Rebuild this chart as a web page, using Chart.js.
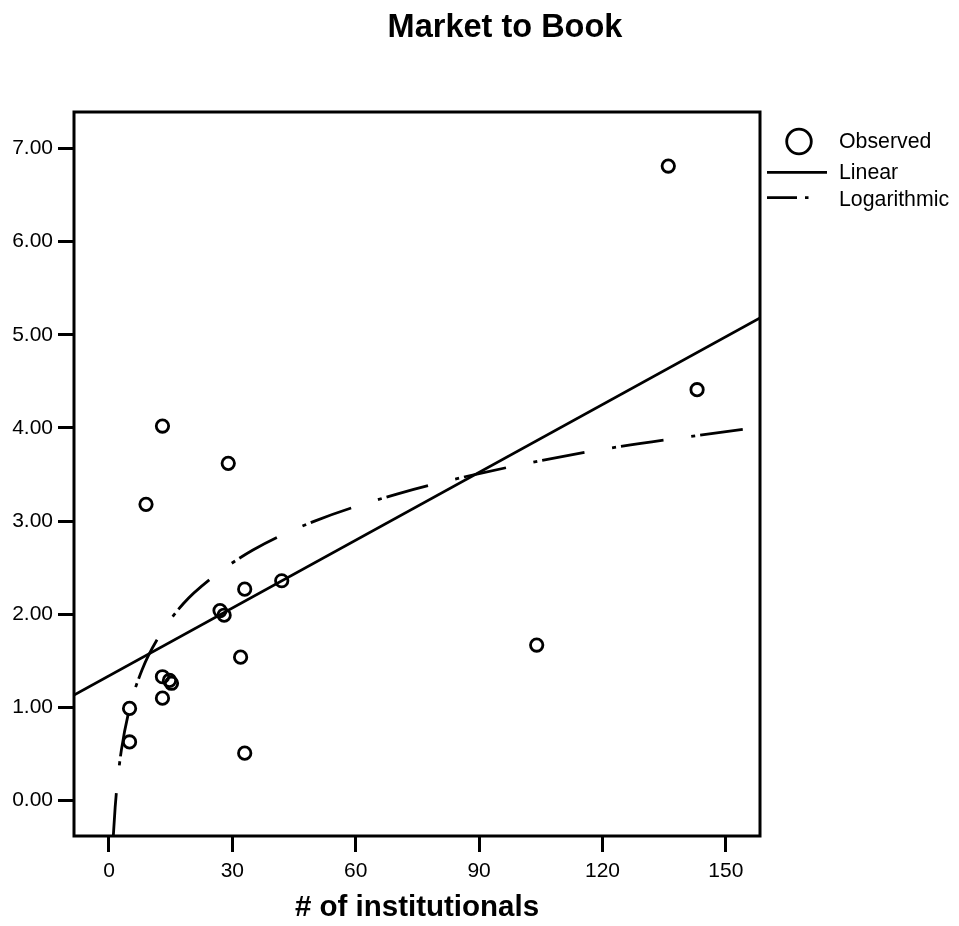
<!DOCTYPE html>
<html>
<head>
<meta charset="utf-8">
<script src="https://cdn.jsdelivr.net/npm/chart.js@4"></script>
<style>
  html, body { margin: 0; padding: 0; background: #fff; }
  #wrap { width: 959px; height: 926px; }
</style>
</head>
<body>
<div id="wrap"><canvas id="c" width="959" height="926"></canvas></div>
<script>
// ---- data ----
const chartTitle = "Market to Book";
const xAxisTitle = "# of institutionals";
const legendLabels = ["Observed", "Linear", "Logarithmic"];

const obsX = [136, 143, 13, 29, 9, 42, 33, 27, 28, 104, 32, 13, 14.7, 15.2, 13, 5, 5, 33];
const obsY = [6.81, 4.41, 4.02, 3.62, 3.18, 2.36, 2.27, 2.04, 1.99, 1.67, 1.54, 1.33, 1.29, 1.26, 1.10, 0.99, 0.63, 0.51];

const linX = [-8.51, 158.3];
const linY = [1.134, 5.18];

const logX = [1.05, 1.5, 2, 3, 5, 8, 12, 18, 25, 35, 50, 70, 90, 120, 155];
const logY = [-0.38, -0.07, 0.18, 0.54, 0.99, 1.40, 1.75, 2.11, 2.39, 2.69, 3.00, 3.29, 3.51, 3.77, 3.99];

const xTicks = [0, 30, 60, 90, 120, 150];
const yTicks = [0, 1, 2, 3, 4, 5, 6, 7];
const xMin = -8.51, xMax = 158.3;
const yMin = -0.379, yMax = 7.39;

// ---- build ----
const FONT = "'Liberation Sans', Arial, Helvetica, sans-serif";
const zip = (xs, ys) => xs.map((x, i) => ({ x: x, y: ys[i] }));
const LOG_DASH = [43, 28, 4, 5];

const framePlugin = {
  id: 'frameAndText',
  afterDraw(chart) {
    const ctx = chart.ctx;
    const a = chart.chartArea;
    ctx.save();
    // plot frame
    ctx.strokeStyle = '#000';
    ctx.lineWidth = 3;
    ctx.strokeRect(a.left, a.top, a.right - a.left, a.bottom - a.top);

    // title
    ctx.fillStyle = '#000';
    ctx.textAlign = 'center';
    ctx.textBaseline = 'alphabetic';
    ctx.font = "bold 32.5px " + FONT;
    ctx.fillText(chartTitle, 505, 37);

    // x axis title
    ctx.font = "bold 29.5px " + FONT;
    ctx.fillText(xAxisTitle, (a.left + a.right) / 2, 916);

    // legend
    ctx.textAlign = 'left';
    ctx.font = "21.3px " + FONT;
    ctx.lineWidth = 2.8;
    ctx.beginPath();
    ctx.arc(799, 141.5, 12.3, 0, Math.PI * 2);
    ctx.stroke();
    ctx.fillText(legendLabels[0], 839, 147.5);

    ctx.beginPath();
    ctx.moveTo(767, 172.3);
    ctx.lineTo(827, 172.3);
    ctx.stroke();
    ctx.fillText(legendLabels[1], 839, 178.5);

    ctx.beginPath();
    ctx.moveTo(767, 197.7);
    ctx.lineTo(797, 197.7);
    ctx.moveTo(805, 197.7);
    ctx.lineTo(808.5, 197.7);
    ctx.stroke();
    ctx.fillText(legendLabels[2], 839, 206);
    ctx.restore();
  }
};

new Chart(document.getElementById('c'), {
  type: 'scatter',
  data: {
    datasets: [
      {
        label: legendLabels[0],
        data: zip(obsX, obsY),
        pointStyle: 'circle',
        pointRadius: 6.2,
        pointHoverRadius: 6.2,
        borderWidth: 2.8,
        borderColor: '#000',
        backgroundColor: 'rgba(0,0,0,0)',
        order: 1
      },
      {
        label: legendLabels[1],
        data: zip(linX, linY),
        showLine: true,
        pointRadius: 0,
        borderWidth: 2.8,
        borderColor: '#000',
        backgroundColor: 'rgba(0,0,0,0)',
        order: 2
      },
      {
        label: legendLabels[2],
        data: zip(logX, logY),
        showLine: true,
        cubicInterpolationMode: 'monotone',
        pointRadius: 0,
        borderWidth: 2.8,
        borderColor: '#000',
        borderDash: LOG_DASH,
        backgroundColor: 'rgba(0,0,0,0)',
        order: 3
      }
    ]
  },
  options: {
    responsive: false,
    animation: false,
    events: [],
    layout: { padding: { top: 112, right: 199, left: 0, bottom: 0 } },
    plugins: {
      legend: { display: false },
      title: { display: false },
      tooltip: { enabled: false }
    },
    scales: {
      x: {
        type: 'linear',
        min: xMin,
        max: xMax,
        afterBuildTicks: s => { s.ticks = xTicks.map(v => ({ value: v })); },
        afterFit: s => { s.height = 90; },
        border: { display: false },
        grid: { display: true, drawOnChartArea: false, drawTicks: true, tickLength: 16, tickWidth: 3, tickColor: '#000', color: '#000' },
        ticks: {
          color: '#000',
          font: { family: FONT, size: 21 },
          padding: 7,
          maxRotation: 0,
          autoSkip: false,
          callback: v => String(v)
        }
      },
      y: {
        type: 'linear',
        min: yMin,
        max: yMax,
        afterBuildTicks: s => { s.ticks = yTicks.map(v => ({ value: v })); },
        afterFit: s => { s.width = 74; },
        border: { display: false },
        grid: { display: true, drawOnChartArea: false, drawTicks: true, tickLength: 16, tickWidth: 3, tickColor: '#000', color: '#000' },
        ticks: {
          color: '#000',
          font: { family: FONT, size: 21 },
          padding: 5,
          autoSkip: false,
          callback: v => Number(v).toFixed(2)
        }
      }
    }
  },
  plugins: [framePlugin]
});
</script>
</body>
</html>
